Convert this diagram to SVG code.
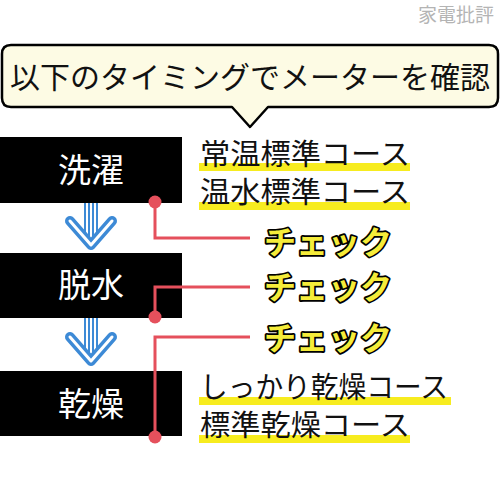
<svg xmlns="http://www.w3.org/2000/svg" width="500" height="500" viewBox="0 0 500 500">
<style>
.jp{font-family:"Noto Sans CJK JP","Noto Sans",sans-serif}
.box{fill:#000}
.boxt{fill:#fff;font-size:33px;text-anchor:middle}
.course{fill:#111;font-size:29px}
.hl{fill:#f7ec1f}
.chk{fill:#f5ec3a;stroke:#000;stroke-width:3.5px;paint-order:stroke;font-size:32px;font-weight:bold;stroke-linejoin:round}
.red{fill:none;stroke:#e5505c;stroke-width:3}
.dot{fill:#e5505c}
.arrB{fill:none;stroke:#3d8ad6;stroke-linecap:round;stroke-linejoin:round}
.arrW{fill:none;stroke:#fff;stroke-linecap:round;stroke-linejoin:round}
</style>
<rect width="500" height="500" fill="#fff"/>
<text class="jp" x="494" y="22" font-size="19" fill="#b4b4b4" text-anchor="end">家電批評</text>
<g id="callout">
<path d="M11,45 H489 Q498,45 498,54 V98 Q498,107 489,107 H268 L250,127 L232,107 H11 Q2,107 2,98 V54 Q2,45 11,45 Z" fill="#fdfbe4" stroke="#000" stroke-width="2.5" stroke-linejoin="round"/>
<text class="jp" x="250" y="88" font-size="30" text-anchor="middle" fill="#111">以下のタイミングでメーターを確認</text>
</g>
<g id="arrows">
<g>
<path class="arrB" stroke-width="6" d="M87,203 V238 M95,203 V238"/>
<path class="arrW" stroke-width="2" d="M87,203 V238 M95,203 V238"/>
<path class="arrB" stroke-width="10" d="M70,221 L91,245 L112,221"/>
<path class="arrW" stroke-width="3" d="M70,221 L91,245 L112,221"/>
</g>
<g>
<path class="arrB" stroke-width="6" d="M87,318 V354 M95,318 V354"/>
<path class="arrW" stroke-width="2" d="M87,318 V354 M95,318 V354"/>
<path class="arrB" stroke-width="10" d="M70,337 L91,361 L112,337"/>
<path class="arrW" stroke-width="3" d="M70,337 L91,361 L112,337"/>
</g>
</g>
<g id="wash">
<rect class="box" x="0" y="137" width="182" height="66"/>
<text class="jp boxt" x="91" y="182">洗濯</text>
</g>
<g id="spin">
<rect class="box" x="0" y="253" width="182" height="65"/>
<text class="jp boxt" x="91" y="297">脱水</text>
</g>
<g id="dry">
<rect class="box" x="0" y="371" width="182" height="65"/>
<text class="jp boxt" x="91" y="416">乾燥</text>
</g>
<g id="connectors">
<path class="red" d="M155,202 V238 H250"/>
<circle class="dot" cx="155" cy="202" r="6.5"/>
<path class="red" d="M250,287 H155 V317"/>
<circle class="dot" cx="155" cy="317" r="6.5"/>
<path class="red" d="M250,337 H155 V437"/>
<circle class="dot" cx="155" cy="437" r="6.5"/>
</g>
<g id="checks">
<text class="jp chk" x="264" y="254">チェック</text>
<text class="jp chk" x="264" y="299">チェック</text>
<text class="jp chk" x="264" y="350">チェック</text>
</g>
<g id="courses-wash">
<rect class="hl" x="199" y="163" width="211" height="8"/>
<rect class="hl" x="199" y="202" width="211" height="8"/>
<text class="jp course" x="200" y="165" textLength="210" lengthAdjust="spacingAndGlyphs">常温標準コース</text>
<text class="jp course" x="200" y="203" textLength="210" lengthAdjust="spacingAndGlyphs">温水標準コース</text>
</g>
<g id="courses-dry">
<rect class="hl" x="199" y="397" width="252" height="8"/>
<rect class="hl" x="199" y="435" width="211" height="8"/>
<text class="jp course" x="200" y="398" textLength="248" lengthAdjust="spacingAndGlyphs">しっかり乾燥コース</text>
<text class="jp course" x="200" y="436" textLength="210" lengthAdjust="spacingAndGlyphs">標準乾燥コース</text>
</g>
</svg>
